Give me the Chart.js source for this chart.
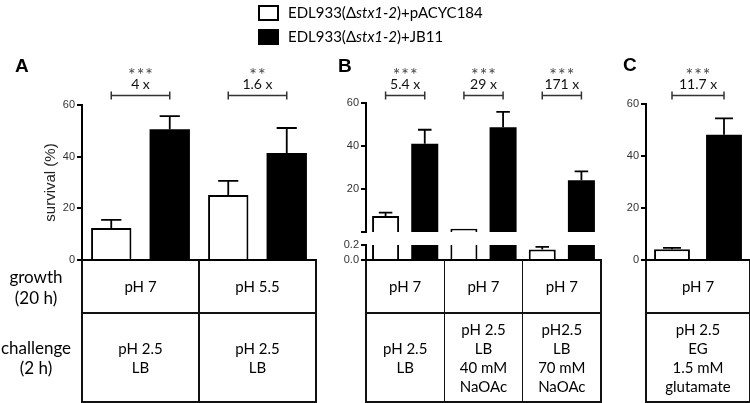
<!DOCTYPE html>
<html><head><meta charset="utf-8">
<script src="https://cdn.jsdelivr.net/npm/chart.js@4/dist/chart.umd.min.js"></script>
<style>
html,body{margin:0;padding:0;background:#fff;}
#wrap{position:relative;width:750px;height:403px;overflow:hidden;background:#fff;}
canvas{position:absolute;left:0;top:0;}
.txt{position:absolute;font-family:Lato,'Open Sans',sans-serif;color:#000;white-space:nowrap;}
.letter{position:absolute;font-family:'Liberation Sans',Arial,sans-serif;font-weight:bold;font-size:19px;line-height:20px;color:#000;}
.ln{position:absolute;background:#111;}
.cell{position:absolute;display:flex;flex-direction:column;align-items:center;justify-content:center;font-family:Lato,'Open Sans',sans-serif;font-size:15px;line-height:19px;text-align:center;color:#000;white-space:nowrap;}
.rowlab{position:absolute;display:flex;flex-direction:column;align-items:center;justify-content:center;font-family:Lato,'Open Sans',sans-serif;font-size:17px;text-align:center;color:#000;white-space:nowrap;}
.box{position:absolute;width:21px;height:16px;box-sizing:border-box;}
</style></head>
<body>
<div id="wrap">
  <canvas id="cA" width="750" height="403"></canvas>
  <canvas id="cBu" width="750" height="403"></canvas>
  <canvas id="cBl" width="750" height="403"></canvas>
  <canvas id="cC" width="750" height="403"></canvas>
  <div class="box" style="left:258px;top:5px;border:2px solid #000;background:#fff;"></div>
  <div class="box" style="left:258px;top:29px;background:#000;"></div>
  <div class="txt" id="leg0" style="left:288px;top:2px;font-size:15px;line-height:20px;"></div>
  <div class="txt" id="leg1" style="left:288px;top:26px;font-size:15px;line-height:20px;"></div>
  <div class="letter" style="left:15px;top:56px;">A</div>
  <div class="letter" style="left:338px;top:56px;">B</div>
  <div class="letter" style="left:623px;top:55px;">C</div>
</div>
<script>
// ---------------- data ----------------
const legendLabels = ['EDL933(\u0394stx1-2)+pACYC184', 'EDL933(\u0394stx1-2)+JB11'];
const rowLabels = [['growth', '(20 h)'], ['challenge', '(2 h)']];
const yTitle = 'survival (%)';

// Panel A
const conditionsA = ['pH 7 / pH 2.5 LB', 'pH 5.5 / pH 2.5 LB'];
const growthA = ['pH 7', 'pH 5.5'];
const challengeA = [['pH 2.5', 'LB'], ['pH 2.5', 'LB']];
const ctrlA = [12.4, 25.2];
const ctrlErrA = [3.1, 5.4];
const jbA = [50.6, 41.4];
const jbErrA = [5.1, 9.7];
const foldA = ['4 x', '1.6 x'];
const sigA = ['***', '**'];
const yTicksA = [0, 20, 40, 60];

// Panel B (broken axis: lower 0-0.2, upper 0.2-60)
const conditionsB = ['pH 7 / pH 2.5 LB', 'pH 7 / pH 2.5 LB 40 mM NaOAc', 'pH 7 / pH 2.5 LB 70 mM NaOAc'];
const growthB = ['pH 7', 'pH 7', 'pH 7'];
const challengeB = [['pH 2.5', 'LB'], ['pH 2.5', 'LB', '40 mM', 'NaOAc'], ['pH2.5', 'LB', '70 mM', 'NaOAc']];
const ctrlB = [7.6, 1.7, 0.14];
const ctrlErrB = [1.6, 0, 0.035];
const jbB = [41.1, 48.8, 24.2];
const jbErrB = [6.5, 7.1, 4.1];
const foldB = ['5.4 x', '29 x', '171 x'];
const sigB = ['***', '***', '***'];
const breakB = 0.2;
const yTicksBUpper = [0.2, 20, 40, 60];
const yTicksBLower = [0, 0.2];

// Panel C
const conditionsC = ['pH 7 / pH 2.5 EG 1.5 mM glutamate'];
const growthC = ['pH 7'];
const challengeC = [['pH 2.5', 'EG', '1.5 mM', 'glutamate']];
const ctrlC = [4.1];
const ctrlErrC = [0.6];
const jbC = [48.2];
const jbErrC = [6.3];
const foldC = ['11.7 x'];
const sigC = ['***'];
const yTicksC = [0, 20, 40, 60];

// ---------------- layout ----------------
const W = 750, H = 403;
const tableMid = 313, tableBottom = 402;

function setLegend(el, label) {
  const m = label.match(/^(.*\u0394)(stx1-2)(.*)$/);
  el.innerHTML = '';
  el.appendChild(document.createTextNode(m[1]));
  const i = document.createElement('i'); i.textContent = m[2]; el.appendChild(i);
  el.appendChild(document.createTextNode(m[3]));
}
setLegend(document.getElementById('leg0'), legendLabels[0]);
setLegend(document.getElementById('leg1'), legendLabels[1]);

const errorBarPlugin = {
  id: 'errbars',
  afterDatasetsDraw(chart) {
    const {ctx, chartArea: ca} = chart;
    const y = chart.scales.y;
    ctx.save();
    ctx.beginPath();
    ctx.rect(ca.left, ca.top, ca.right - ca.left, ca.bottom - ca.top);
    ctx.clip();
    ctx.strokeStyle = '#000';
    ctx.lineWidth = 1.8;
    chart.data.datasets.forEach((ds, di) => {
      const meta = chart.getDatasetMeta(di);
      meta.data.forEach((bar, i) => {
        const v = ds.data[i], e = ds.errors[i];
        if (v == null || !(e > 0)) return;
        const y0 = y.getPixelForValue(v), y1 = y.getPixelForValue(v + e);
        const hw = bar.width * 0.25;
        ctx.beginPath();
        ctx.moveTo(bar.x, y0); ctx.lineTo(bar.x, y1);
        ctx.moveTo(bar.x - hw, y1); ctx.lineTo(bar.x + hw, y1);
        ctx.stroke();
      });
    });
    ctx.restore();
  }
};

function bracketPlugin(folds, sigs) {
  return {
    id: 'brackets',
    afterDraw(chart) {
      const ctx = chart.ctx;
      const xs = chart.scales.x;
      const by = 95.5;
      ctx.save();
      folds.forEach((f, i) => {
        const m0 = chart.getDatasetMeta(0).data[i], m1 = chart.getDatasetMeta(1).data[i];
        const x1 = m0 ? m0.x : xs.getPixelForValue(i), x2 = m1.x;
        ctx.strokeStyle = '#333';
        ctx.lineWidth = 1.5;
        ctx.beginPath();
        ctx.moveTo(x1, by); ctx.lineTo(x2, by);
        ctx.moveTo(x1, by - 4); ctx.lineTo(x1, by + 4);
        ctx.moveTo(x2, by - 4); ctx.lineTo(x2, by + 4);
        ctx.stroke();
        const cx = (x1 + x2) / 2;
        ctx.textAlign = 'center';
        ctx.textBaseline = 'alphabetic';
        ctx.fillStyle = '#111';
        ctx.font = '14px Lato, "Open Sans", sans-serif';
        ctx.fillText(f, cx, 89);
        ctx.fillStyle = '#444';
        ctx.font = '18px Lato, "Open Sans", sans-serif';
        ctx.letterSpacing = '1px';
        ctx.fillText(sigs[i], cx + 0.5, 81);
        ctx.letterSpacing = '0px';
      });
      ctx.restore();
    }
  };
}

function makeChart(id, cfg) {
  const a = cfg.area;
  const plugins = [errorBarPlugin];
  if (cfg.folds) plugins.push(bracketPlugin(cfg.folds, cfg.sigs));
  return new Chart(document.getElementById(id), {
    type: 'bar',
    data: {
      labels: cfg.labels,
      datasets: [
        {label: legendLabels[0], data: cfg.ctrl, errors: cfg.ctrlErr, backgroundColor: '#fff', borderColor: '#000', borderWidth: 2, borderSkipped: 'start', clip: 0},
        {label: legendLabels[1], data: cfg.jb, errors: cfg.jbErr, backgroundColor: '#000', borderColor: '#000', borderWidth: 0, clip: 0}
      ]
    },
    options: {
      responsive: false, animation: false, events: [],
      layout: {padding: {left: a.left - cfg.yWidth, right: W - a.right, top: a.top, bottom: H - a.bottom}},
      plugins: {legend: {display: false}, tooltip: {enabled: false}},
      datasets: {bar: {categoryPercentage: 1, barPercentage: 0.69}},
      scales: {
        x: {
          type: 'category', offset: true,
          grid: {display: false, drawTicks: false},
          ticks: {display: false},
          border: {display: cfg.xBorder, color: '#000', width: 2},
          afterFit(s) { s.height = 0; }
        },
        y: {
          min: cfg.min, max: cfg.max,
          afterBuildTicks(s) { s.ticks = cfg.ticks.map(v => ({value: v})); },
          ticks: {autoSkip: false, callback: cfg.fmt, font: {family: '"Liberation Sans", Arial, sans-serif', size: 11}, color: '#333', padding: 2},
          grid: {drawOnChartArea: false, drawTicks: true, tickLength: 5, lineWidth: 2, color: '#000'},
          border: {color: '#000', width: 2},
          title: cfg.title ? {display: true, text: cfg.title, color: '#222', font: {family: '"Liberation Sans", Arial, sans-serif', size: 15}, padding: {top: 4, bottom: 4}} : {display: false},
          afterFit(s) { s.width = cfg.yWidth; }
        }
      }
    },
    plugins
  });
}

const wrap = document.getElementById('wrap');
function addLine(l, t, w, h) {
  const d = document.createElement('div');
  d.className = 'ln';
  d.style.cssText = `left:${l}px;top:${t}px;width:${w}px;height:${h}px;`;
  wrap.appendChild(d);
}
function addCell(cls, l, t, w, h, lines, lh) {
  const d = document.createElement('div');
  d.className = cls;
  d.style.cssText = `left:${l}px;top:${t}px;width:${w}px;height:${h}px;` + (lh ? `line-height:${lh}px;` : '');
  lines.forEach(s => { const sp = document.createElement('div'); sp.textContent = s; d.appendChild(sp); });
  wrap.appendChild(d);
}
function buildTable(chart, growth, challenge) {
  const xs = chart.scales.x, ca = chart.chartArea;
  const top = ca.bottom;
  const edges = [ca.left];
  for (let i = 0; i < growth.length - 1; i++) edges.push((xs.getPixelForValue(i) + xs.getPixelForValue(i + 1)) / 2);
  edges.push(ca.right);
  edges.forEach(x => addLine(x - 0.75, top, 1.5, tableBottom - top + 1));
  addLine(ca.left, tableMid - 0.75, ca.right - ca.left, 1.5);
  addLine(ca.left, tableBottom - 0.75, ca.right - ca.left, 1.5);
  growth.forEach((g, i) => {
    addCell('cell', edges[i], top, edges[i + 1] - edges[i], tableMid - top, [g]);
    addCell('cell', edges[i], tableMid, edges[i + 1] - edges[i], tableBottom - tableMid, challenge[i]);
  });
}

const chartA = makeChart('cA', {
  area: {left: 82, right: 316, top: 105, bottom: 260}, yWidth: 44, title: yTitle,
  labels: conditionsA, ctrl: ctrlA, ctrlErr: ctrlErrA, jb: jbA, jbErr: jbErrA,
  min: 0, max: 60, ticks: yTicksA, fmt: v => String(v), xBorder: true, folds: foldA, sigs: sigA
});
// upper segment of the broken axis only shows values above the break
const chartBu = makeChart('cBu', {
  area: {left: 366, right: 601, top: 103, bottom: 232}, yWidth: 30,
  labels: conditionsB,
  ctrl: ctrlB.map(v => (v > breakB ? v : null)), ctrlErr: ctrlErrB,
  jb: jbB.map(v => (v > breakB ? v : null)), jbErr: jbErrB,
  min: breakB, max: 60, ticks: yTicksBUpper, fmt: v => (v < 1 ? '' : String(v)), xBorder: false, folds: foldB, sigs: sigB
});
const chartBl = makeChart('cBl', {
  area: {left: 366, right: 601, top: 245, bottom: 260}, yWidth: 30,
  labels: conditionsB, ctrl: ctrlB, ctrlErr: ctrlErrB, jb: jbB, jbErr: jbErrB,
  min: 0, max: breakB, ticks: yTicksBLower, fmt: v => Number(v).toFixed(1), xBorder: true
});
const chartC = makeChart('cC', {
  area: {left: 646, right: 750, top: 104, bottom: 260}, yWidth: 30,
  labels: conditionsC, ctrl: ctrlC, ctrlErr: ctrlErrC, jb: jbC, jbErr: jbErrC,
  min: 0, max: 60, ticks: yTicksC, fmt: v => String(v), xBorder: true, folds: foldC, sigs: sigC
});

buildTable(chartA, growthA, challengeA);
buildTable(chartBl, growthB, challengeB);
buildTable(chartC, growthC, challengeC);
addCell('rowlab', 0, 260, 72, tableMid - 260, rowLabels[0], 21);
addCell('rowlab', 0, tableMid, 72, tableBottom - tableMid, rowLabels[1], 20);
</script>
</body></html>
